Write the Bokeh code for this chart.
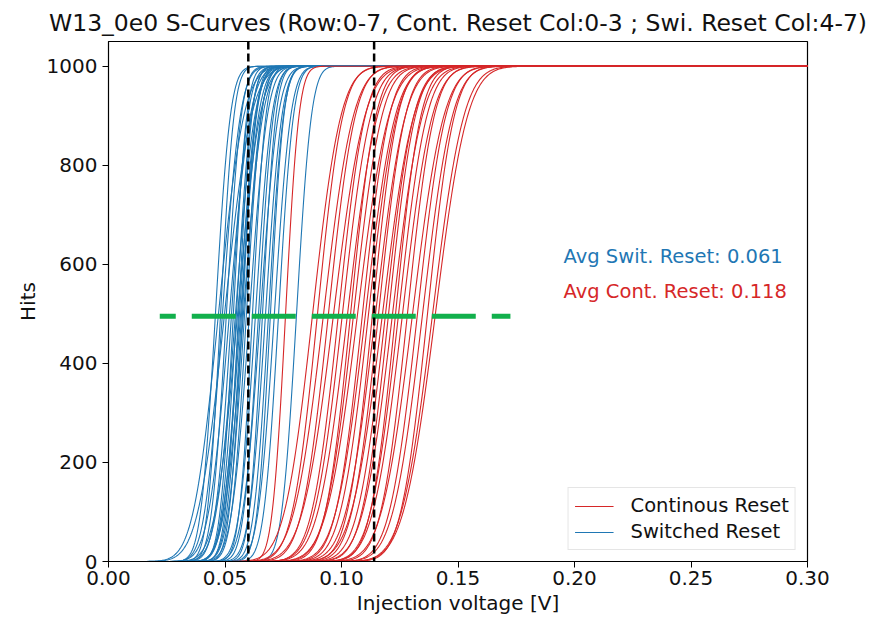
import math
import numpy as np
from bokeh.plotting import figure
from bokeh.models import (ColumnDataSource, Range1d, Legend, LegendItem, Label,
                          FixedTicker, NumeralTickFormatter, Span)
from bokeh.embed import file_html
from bokeh.resources import INLINE

# ---------------- data ----------------
title_text = "W13_0e0 S-Curves (Row:0-7, Cont. Reset Col:0-3 ; Swi. Reset Col:4-7)"
n_injections = 1000

# 50 % point (threshold, V) and width (noise, V) of each pixel's S-curve
switched_threshold = [0.0459, 0.0472, 0.0481, 0.0489, 0.0498, 0.0506, 0.0519, 0.0528,
                      0.0536, 0.0545, 0.0549, 0.0554, 0.0558, 0.0562, 0.0567, 0.0571,
                      0.0575, 0.0579, 0.0584, 0.0592, 0.0605, 0.0618, 0.0631, 0.0644,
                      0.0652, 0.0661, 0.0674, 0.0687, 0.0695, 0.0712, 0.0730, 0.0807]
switched_noise = [0.0050, 0.0085, 0.0045, 0.0060, 0.0090, 0.0050, 0.0070, 0.0055,
                  0.0045, 0.0065, 0.0050, 0.0075, 0.0045, 0.0055, 0.0060, 0.0050,
                  0.0045, 0.0065, 0.0055, 0.0050, 0.0060, 0.0045, 0.0055, 0.0050,
                  0.0060, 0.0045, 0.0055, 0.0050, 0.0045, 0.0055, 0.0050, 0.0050]

continuous_threshold = [0.0760, 0.0876, 0.0897, 0.0923, 0.0944, 0.0966, 0.0987, 0.1004,
                        0.1026, 0.1039, 0.1052, 0.1069, 0.1090, 0.1103, 0.1116, 0.1133,
                        0.1146, 0.1159, 0.1176, 0.1189, 0.1202, 0.1219, 0.1232, 0.1245,
                        0.1262, 0.1283, 0.1305, 0.1326, 0.1348, 0.1369, 0.1391, 0.1403]
continuous_noise = [0.0045, 0.0095, 0.0085, 0.0100, 0.0090, 0.0105, 0.0090, 0.0095,
                    0.0100, 0.0085, 0.0095, 0.0105, 0.0090, 0.0100, 0.0095, 0.0085,
                    0.0100, 0.0090, 0.0105, 0.0095, 0.0090, 0.0100, 0.0085, 0.0095,
                    0.0100, 0.0090, 0.0105, 0.0095, 0.0100, 0.0090, 0.0105, 0.0108]

avg_switched = 0.061
avg_continuous = 0.118
vline_positions = [0.060, 0.114]
half_level = [495, 495]
half_span = [0.022, 0.1725]
x_ticks = [0.0, 0.05, 0.10, 0.15, 0.20, 0.25, 0.30]
y_ticks = [0, 200, 400, 600, 800, 1000]

# ---------------- curves ----------------
voltage = np.linspace(0.0, 0.30, 901)
verf = np.vectorize(math.erf)


def s_curve(thr, sig):
    return 0.5 * n_injections * (1.0 + verf((voltage - thr) / (math.sqrt(2.0) * sig)))


sw_src = ColumnDataSource(dict(
    xs=[voltage for _ in switched_threshold],
    ys=[s_curve(t, s) for t, s in zip(switched_threshold, switched_noise)]))
co_src = ColumnDataSource(dict(
    xs=[voltage for _ in continuous_threshold],
    ys=[s_curve(t, s) for t, s in zip(continuous_threshold, continuous_noise)]))

BLUE = "#1f77b4"
RED = "#d62728"
FONT = "DejaVu Sans"

p = figure(width=871, height=620, output_backend="svg", toolbar_location=None,
           x_range=Range1d(0.0, 0.30), y_range=Range1d(0, 1050),
           min_border_left=108, min_border_right=64, min_border_top=41,
           min_border_bottom=59)

p.title.text = title_text
p.title.align = "center"
p.title.text_font = FONT
p.title.text_font_size = "23.5px"
p.title.text_font_style = "normal"
p.title.text_color = "#111111"
p.title.standoff = 10

p.xgrid.grid_line_color = None
p.ygrid.grid_line_color = None
p.outline_line_color = "black"
p.outline_line_width = 1.2
p.outline_line_alpha = 1.0

for ax in (p.xaxis[0], p.yaxis[0]):
    ax.axis_line_color = "black"
    ax.major_tick_line_color = "black"
    ax.major_tick_out = 6
    ax.major_tick_in = 0
    ax.minor_tick_line_color = None
    ax.major_label_text_font = FONT
    ax.major_label_text_font_size = "20px"
    ax.major_label_text_color = "#111111"
    ax.axis_label_text_font = FONT
    ax.axis_label_text_font_size = "20px"
    ax.axis_label_text_font_style = "normal"
    ax.axis_label_text_color = "#111111"

p.xaxis.ticker = FixedTicker(ticks=x_ticks)
p.xaxis.formatter = NumeralTickFormatter(format="0.00")
p.xaxis.axis_label = "Injection voltage [V]"
p.xaxis.axis_label_standoff = 3
p.xaxis.major_label_standoff = 3
p.yaxis.ticker = FixedTicker(ticks=y_ticks)
p.yaxis.axis_label = "Hits"
p.yaxis.axis_label_standoff = 4

sw = p.multi_line("xs", "ys", source=sw_src, line_color=BLUE, line_width=1.1)
co = p.multi_line("xs", "ys", source=co_src, line_color=RED, line_width=1.1)

for xv in vline_positions:
    p.add_layout(Span(location=xv, dimension="height", line_color="black",
                      line_width=2.5, line_dash="8 4"))

p.line(half_span, half_level, line_color="#12b04c", line_width=5,
       line_dash="44 16", line_dash_offset=28)

p.add_layout(Label(x=0.1953, y=615, text="Avg Swit. Reset: %.3f" % avg_switched,
                   text_color=BLUE, text_font=FONT, text_font_size="19.5px",
                   text_baseline="middle"))
p.add_layout(Label(x=0.1953, y=546, text="Avg Cont. Reset: %.3f" % avg_continuous,
                   text_color=RED, text_font=FONT, text_font_size="19.5px",
                   text_baseline="middle"))

legend = Legend(items=[LegendItem(label="Continous Reset", renderers=[co]),
                       LegendItem(label="Switched Reset", renderers=[sw])],
                location="bottom_right")
legend.label_text_font = FONT
legend.label_text_font_size = "19.5px"
legend.label_text_color = "#111111"
legend.glyph_width = 39
legend.label_standoff = 17
legend.spacing = 3
legend.padding = 6
legend.margin = 11
legend.border_line_color = "#cccccc"
legend.border_line_width = 1
legend.background_fill_alpha = 0.9
p.add_layout(legend)

open("out.html", "w").write(file_html(p, INLINE))
